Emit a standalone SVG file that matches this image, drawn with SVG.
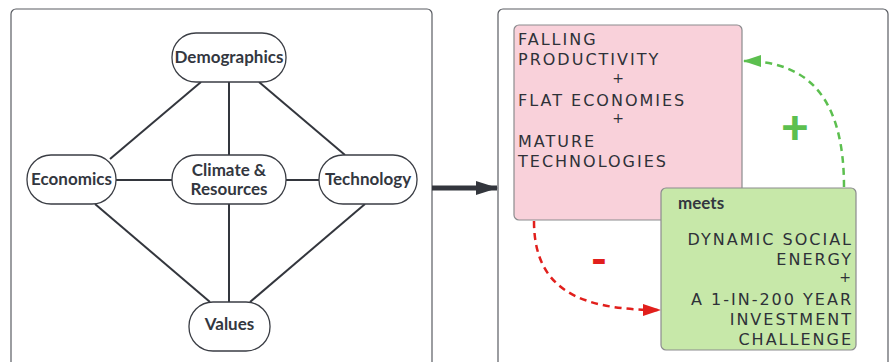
<svg xmlns="http://www.w3.org/2000/svg" width="890" height="362" viewBox="0 0 890 362">
  <defs>
    <style>
      .panel { fill: #ffffff; stroke: #5a5d63; stroke-width: 1.2; }
      .node rect { fill: #ffffff; stroke: #3a3d44; stroke-width: 1.3; }
      .node text { font-family: Lato, "Open Sans", sans-serif; font-weight: 700; font-size: 17px; fill: #33373f; text-anchor: middle; }
      .link { stroke: #33363d; stroke-width: 2; fill: none; }
      .hand { font-family: "DejaVu Sans", sans-serif; font-size: 16px; fill: #2e3138; letter-spacing: 2px; }
      .plus { font-family: "DejaVu Sans", sans-serif; font-size: 14px; fill: #2e3138; text-anchor: middle; }
      .loop { fill: none; stroke-width: 2.5; stroke-dasharray: 7,5; }
    </style>
    <marker id="headDark" viewBox="0 0 22 14" refX="21" refY="7" markerWidth="22" markerHeight="14" orient="auto" markerUnits="userSpaceOnUse">
      <path d="M0,0 L22,7 L0,14 z" fill="#33363d"/>
    </marker>
    <marker id="headGreen" viewBox="0 0 18 12" refX="17" refY="6" markerWidth="18" markerHeight="12" orient="auto" markerUnits="userSpaceOnUse">
      <path d="M0,0 L18,6 L0,12 z" fill="#5cbf4f"/>
    </marker>
    <marker id="headRed" viewBox="0 0 18 12" refX="17" refY="6" markerWidth="18" markerHeight="12" orient="auto" markerUnits="userSpaceOnUse">
      <path d="M0,0 L18,6 L0,12 z" fill="#e11f1c"/>
    </marker>
  </defs>

  <rect width="890" height="362" fill="#ffffff"/>

  <!-- two framing panels -->
  <rect class="panel" x="11" y="9" width="421" height="370" rx="5"/>
  <rect class="panel" x="498" y="9" width="390" height="370" rx="5"/>

  <!-- connectors -->
  <g id="connectors">
    <line class="link" x1="201" y1="82" x2="110" y2="159"/>
    <line class="link" x1="229" y1="82" x2="229" y2="155"/>
    <line class="link" x1="259" y1="82" x2="345" y2="155"/>
    <line class="link" x1="116" y1="180" x2="172" y2="180"/>
    <line class="link" x1="286" y1="180" x2="319" y2="180"/>
    <line class="link" x1="95" y1="204" x2="210" y2="302"/>
    <line class="link" x1="229" y1="204" x2="229" y2="302"/>
    <line class="link" x1="365" y1="204" x2="250" y2="302"/>
    <line x1="432" y1="188" x2="497" y2="188" stroke="#33363d" stroke-width="5" marker-end="url(#headDark)"/>
    <path class="loop" d="M844,187 C844,100 810,61 744,61" stroke="#5cbf4f" marker-end="url(#headGreen)"/>
    <path class="loop" d="M534,221 C534,290 580,310 660,310" stroke="#e11f1c" marker-end="url(#headRed)"/>
  </g>

  <!-- driver nodes -->
  <g id="demographics" class="node">
    <rect x="172" y="33" width="114" height="49" rx="24"/>
    <text x="229" y="63">Demographics</text>
  </g>
  <g id="economics" class="node">
    <rect x="27" y="155" width="89" height="49" rx="24"/>
    <text x="71.5" y="185">Economics</text>
  </g>
  <g id="climate" class="node">
    <rect x="172" y="155" width="114" height="49" rx="24"/>
    <text x="229" y="176">Climate &amp;</text>
    <text x="229" y="195">Resources</text>
  </g>
  <g id="technology" class="node">
    <rect x="319" y="155" width="98" height="49" rx="24"/>
    <text x="368" y="185">Technology</text>
  </g>
  <g id="values" class="node">
    <rect x="189" y="302" width="81" height="49" rx="24"/>
    <text x="229.5" y="330">Values</text>
  </g>

  <!-- outcome boxes -->
  <g id="stagnation">
    <rect x="514" y="25" width="228" height="195" rx="5" fill="#f9d1da" stroke="#8b8b8e" stroke-width="1.2"/>
    <text class="hand" x="518" y="45">FALLING</text>
    <text class="hand" x="518" y="65">PRODUCTIVITY</text>
    <text class="plus" x="618" y="83">+</text>
    <text class="hand" x="518" y="106">FLAT ECONOMIES</text>
    <text class="plus" x="618" y="123">+</text>
    <text class="hand" x="518" y="147">MATURE</text>
    <text class="hand" x="518" y="167">TECHNOLOGIES</text>
  </g>
  <g id="energy">
    <rect x="661" y="188" width="195" height="162" rx="5" fill="#c7e8a9" stroke="#8b8b8e" stroke-width="1.2"/>
    <text x="678" y="209" font-family="Lato, sans-serif" font-weight="700" font-size="17" fill="#33373f">meets</text>
    <g text-anchor="end">
      <text class="hand" x="853" y="245">DYNAMIC SOCIAL</text>
      <text class="hand" x="853" y="265">ENERGY</text>
      <text class="plus" x="845" y="282">+</text>
      <text class="hand" x="853" y="305">A 1-IN-200 YEAR</text>
      <text class="hand" x="853" y="325">INVESTMENT</text>
      <text class="hand" x="853" y="345">CHALLENGE</text>
    </g>
  </g>

  <!-- loop polarity signs -->
  <text x="795" y="144" font-family="Lato, sans-serif" font-weight="900" font-size="48" fill="#5cbf4f" text-anchor="middle">+</text>
  <text x="599" y="275" font-family="Lato, sans-serif" font-weight="900" font-size="44" fill="#e11f1c" text-anchor="middle">-</text>
</svg>
